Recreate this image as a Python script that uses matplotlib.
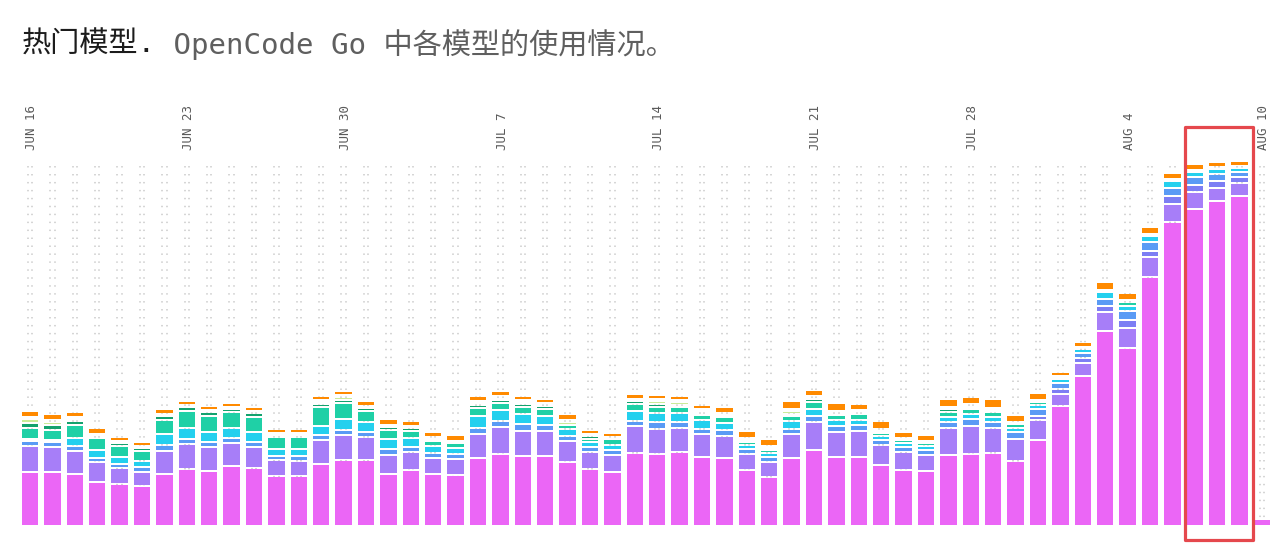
import numpy as np
import matplotlib.pyplot as plt
from matplotlib.patches import Rectangle


# daily usage per model, stacked bottom -> top (arbitrary units)
days = np.arange(56)  # Jun 16 .. Aug 10

pink = [52, 52, 50, 42, 40, 38, 50, 55, 53, 58, 56, 48, 48, 60, 64, 64, 50, 54, 50, 49,
        66, 70, 68, 68, 62, 55, 52, 71, 70, 72, 67, 66, 54, 47, 66, 74, 67, 67, 59, 54,
        53, 69, 70, 71, 63, 84, 118, 148, 193, 176, 247, 302, 315, 323, 328, 5]
purple = [26, 25, 23, 20, 16, 14, 23, 25, 24, 23, 21, 16, 15, 24, 25, 23, 19, 18, 16, 16,
          24, 27, 25, 25, 21, 17, 17, 27, 25, 24, 23, 22, 16, 15, 24, 28, 25, 26, 20, 18,
          16, 27, 28, 25, 22, 20, 12, 13, 19, 20, 20, 18, 17, 13, 13, 0]
indigo = [0] * 45 + [4, 5, 5, 6, 8, 6, 8, 7, 7, 6, 0]
blue = [5, 5, 5, 4, 4, 5, 6, 5, 5, 5, 5, 4, 5, 5, 5, 5, 6, 5, 5, 5,
        6, 6, 7, 6, 5, 5, 5, 5, 7, 6, 5, 6, 5, 5, 5, 6, 6, 6, 5, 5,
        5, 6, 7, 6, 7, 7, 6, 5, 7, 9, 9, 8, 8, 7, 5, 0]
cyan = [2, 2, 8, 8, 7, 6, 11, 11, 10, 10, 10, 7, 7, 9, 11, 10, 10, 9, 7, 6,
        12, 11, 10, 9, 7, 5, 5, 10, 9, 9, 9, 7, 4, 4, 8, 7, 6, 5, 4, 4,
        4, 5, 5, 5, 4, 4, 4, 4, 7, 5, 6, 7, 5, 5, 4, 0]
teal = [11, 10, 13, 12, 11, 10, 14, 17, 16, 16, 15, 12, 12, 19, 16, 11, 9, 7, 5, 5,
        8, 7, 7, 7, 4, 3, 6, 7, 6, 6, 5, 6, 3, 3, 5, 7, 5, 6, 3, 3,
        3, 5, 5, 5, 4, 3, 1, 0, 0, 4, 0, 0, 0, 0, 0, 0]
green = [5, 5, 4, 2, 3, 3, 4, 4, 4, 3, 4, 2, 2, 3, 3, 3, 3, 3, 2, 0,
         3, 3, 3, 3, 0, 3, 0, 3, 3, 2, 2, 2, 2, 2, 2, 3, 2, 2, 2, 0,
         0, 3, 2, 2, 0, 0, 0, 0, 0, 0, 0, 0, 0, 0, 0, 0]
lime = [4, 3, 2, 0, 0, 0, 0, 0, 0, 0, 0, 0, 0, 2, 3, 0, 0, 0, 0, 0,
        2, 2, 2, 1, 3, 0, 0, 0, 3, 3, 2, 0, 0, 0, 3, 1, 0, 0, 0, 0,
        0, 0, 1, 0, 0, 0, 0, 0, 0, 0, 0, 0, 0, 0, 0, 0]
orange = [8, 8, 7, 8, 6, 6, 7, 6, 6, 6, 6, 6, 6, 6, 6, 7, 8, 7, 7, 8,
          7, 7, 6, 6, 8, 6, 6, 7, 6, 6, 6, 8, 9, 9, 10, 8, 10, 8, 10, 8,
          8, 10, 9, 11, 9, 9, 6, 7, 10, 9, 9, 8, 8, 7, 7, 0]

series = [pink, purple, indigo, blue, cyan, teal, green, lime, orange]
colors = ["#EB66F6", "#A77EF8", "#7D7EF4", "#5A9BF5", "#24D0EE",
          "#1FD0A6", "#13A26E", "#CBEB98", "#FF8A00"]
gaps = [0, 1.8, 1.8, 1.8, 1.8, 1.8, 1.8, 1.8, 4]

tick_days = [0, 7, 14, 21, 28, 35, 42, 49, 55]
tick_labels = ["JUN 16", "JUN 23", "JUN 30", "JUL 7", "JUL 14",
               "JUL 21", "JUL 28", "AUG 4", "AUG 10"]

highlight = (52, 54)  # Aug 7 .. Aug 9

mono = ["DejaVu Sans Mono", "Noto Sans CJK SC"]

fig = plt.figure(figsize=(12.8, 5.47), dpi=100)
ax = fig.add_axes([0, 22 / 547, 1, 365 / 547])
ax.set_xlim(-30 / 22.4, 1250 / 22.4)
ax.set_ylim(0, 365)
ax.axis("off")

# dotted guide columns behind each bar
for off in (-0.1, 0.1):
    ax.vlines(days + off, 0, 365, colors="#d2d2d2", linewidth=1.3,
              linestyles=(0, (0.8, 3.6)), zorder=0)

bottom = np.zeros(len(days))
for vals, color, gap in zip(series, colors, gaps):
    vals = np.array(vals, dtype=float)
    h = np.clip(vals - gap, 0, None)
    mask = h > 0
    ax.bar(days[mask], h[mask], bottom=bottom[mask] + gap, width=0.73,
           color=color, linewidth=0, zorder=2)
    bottom += vals

# date labels along the top
for d, lab in zip(tick_days, tick_labels):
    ax.text(d + 0.08, 375, lab, rotation=90, ha="center", va="bottom",
            fontsize=9, color="#5a5a5a", family=mono, clip_on=False)

# highlight box around the latest days
x0 = highlight[0] - 0.45
x1 = highlight[1] + 0.62
ax.add_patch(Rectangle((x0, -15), x1 - x0, 413, fill=False,
                       edgecolor="#E5484D", linewidth=2.3,
                       joinstyle="round", clip_on=False, zorder=5))

# title in two tones
t1 = fig.text(22 / 1280, 1 - 45 / 547, "热门模型.", fontsize=21,
              color="#1c1c1c", va="center", family=mono)
fig.canvas.draw()
bb = t1.get_window_extent()
fig.text(bb.x1 / 1280, 1 - 45 / 547, " OpenCode Go 中各模型的使用情况。",
         fontsize=21, color="#5f5f5f", va="center", family=mono)

fig.savefig("out.png", dpi=100, facecolor="white")
